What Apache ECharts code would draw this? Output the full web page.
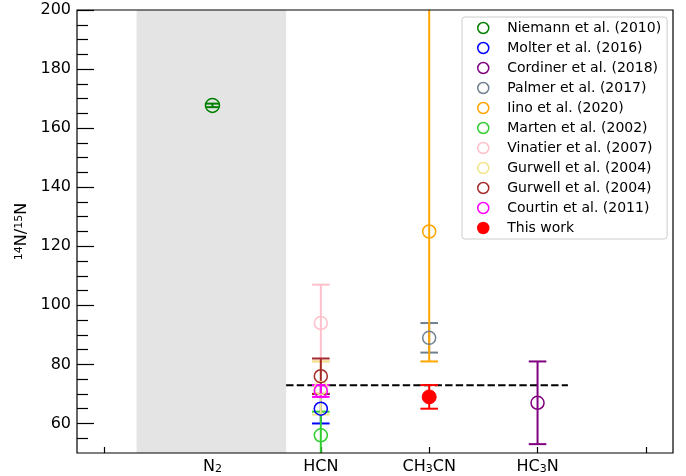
<!DOCTYPE html>
<html>
<head>
<meta charset="utf-8">
<script src="https://cdn.jsdelivr.net/npm/echarts@6/dist/echarts.min.js"></script>
<style>html,body{margin:0;padding:0;background:#fff}#c{width:686px;height:476px}</style>
</head>
<body>
<div id="c"></div>
<script>
// ---- data ----
const xTickLabels = ['', 'N_2', 'HCN', 'CH_3CN', 'HC_3N', ''];
const yTickLabels = [60, 80, 100, 120, 140, 160, 180, 200];
const yMinorTicks = [55, 65, 70, 75, 85, 90, 95, 105, 110, 115, 125, 130, 135, 145, 150, 155, 165, 170, 175, 185, 190, 195];
const seriesNames = ['Niemann et al. (2010)', 'Molter et al. (2016)', 'Cordiner et al. (2018)', 'Palmer et al. (2017)',
  'Iino et al. (2020)', 'Marten et al. (2002)', 'Vinatier et al. (2007)', 'Gurwell et al. (2004)',
  'Gurwell et al. (2004) ', 'Courtin et al. (2011)', 'This work'];
const xIndex   = [1, 2, 4, 3, 3, 2, 2, 2, 2, 2, 3];
const values   = [167.7, 65, 67, 89, 125, 56, 94, 72, 76, 71, 69];
const errLow   = [0.6, 5, 14, 5, 44, 8, 13, 9, 6, 2, 4];
const errHigh  = [0.6, 5, 14, 5, 145, 8, 13, 9, 6, 2, 4];
const spanRange = [0.3, 1.68];
const refLineX = [1.68, 4.28];
const refLineY = 72.9;

// ---- styles ----
const colors = ['#008000', '#0000ff', '#800080', '#708090', '#ffa500', '#32cd32', '#ffc0cb', '#f0e68c', '#a52a2a', '#ff00ff', '#ff0000'];
const filled = [false, false, false, false, false, false, false, false, false, false, true];
const markerSize = [14, 13, 13, 13, 13, 13, 13, 13, 13, 13, 14];
const capHalf = [6.5, 8.8, 8.8, 8.8, 8.8, 8.8, 8.8, 8.8, 8.8, 8.8, 8.8];
const FONT = 'DejaVu Sans';

function fmtLabel(s) {
  if (!s) return '';
  return s.replace(/([^_]+)?_(\d)/g, (m, a, d) => (a ? '{n|' + a + '}' : '') + '{s|' + d + '}')
          .replace(/^([^{]+)/, '{n|$1}')
          .replace(/\}([^{}]+)$/, '}{n|$1}');
}

const series = [];
// grey span
series.push({
  type: 'custom', name: '_span', z: 1, silent: true,
  data: [[spanRange[0], spanRange[1]]],
  renderItem: function (params, api) {
    const p0 = api.coord([api.value(0), 200]);
    const p1 = api.coord([api.value(1), 50]);
    return { type: 'rect', shape: { x: p0[0], y: p0[1], width: p1[0] - p0[0], height: p1[1] - p0[1] }, style: { fill: '#e4e4e4' } };
  }
});
// dashed reference line
series.push({
  type: 'line', name: '_ref', z: 2, silent: true, symbol: 'none',
  data: [[refLineX[0], refLineY], [refLineX[1], refLineY]],
  lineStyle: { color: '#000', width: 2, type: [7.4, 3.2] }
});

seriesNames.forEach((nm, i) => {
  const c = colors[i];
  const ch = capHalf[i];
  series.push({
    type: 'custom', name: '_err' + i, z: 3, clip: true, silent: true,
    data: [[xIndex[i], values[i], values[i] - errLow[i], values[i] + errHigh[i]]],
    encode: { x: 0, y: 1 },
    renderItem: function (params, api) {
      const x = api.value(0);
      const lo = api.coord([x, api.value(2)]);
      const hi = api.coord([x, api.value(3)]);
      const st = { stroke: c, lineWidth: 2 };
      return {
        type: 'group', children: [
          { type: 'line', shape: { x1: lo[0], y1: lo[1], x2: hi[0], y2: hi[1] }, style: st },
          { type: 'line', shape: { x1: lo[0] - ch, y1: lo[1], x2: lo[0] + ch, y2: lo[1] }, style: st },
          { type: 'line', shape: { x1: hi[0] - ch, y1: hi[1], x2: hi[0] + ch, y2: hi[1] }, style: st }
        ]
      };
    }
  });
  series.push({
    type: 'scatter', name: nm, z: 4, symbol: 'circle', symbolSize: markerSize[i],
    data: [[xIndex[i], values[i]]],
    itemStyle: filled[i] ? { color: c, borderColor: c, borderWidth: 1, opacity: 1 } : { color: 'rgba(0,0,0,0)', borderColor: c, borderWidth: 1.5, opacity: 1 },
    emphasis: { disabled: true }
  });
});

const chart = echarts.init(document.getElementById('c'), null, { renderer: 'canvas' });
chart.setOption({
  animation: false,
  backgroundColor: '#fff',
  textStyle: { fontFamily: FONT },
  grid: { left: 77, right: 13, top: 10, bottom: 23, show: true, z: 10, borderColor: '#000', borderWidth: 1.2, backgroundColor: 'rgba(0,0,0,0)' },
  legend: {
    data: seriesNames.map(n => ({ name: n, icon: 'circle' })),
    orient: 'vertical', left: 462, top: 17, selectedMode: false,
    itemWidth: 38, itemHeight: 11, itemGap: 6,
    padding: [4, 6, 4, 15],
    backgroundColor: 'rgba(255,255,255,0.85)', borderColor: '#cccccc', borderWidth: 1, borderRadius: 3,
    itemStyle: { borderWidth: 1.5, opacity: 1 },
    textStyle: { fontFamily: FONT, fontSize: 14, color: '#000' }
  },
  xAxis: {
    type: 'value', min: -0.25, max: 5.25,
    axisLine: { show: false, onZero: false },
    splitLine: { show: false },
    axisTick: { show: true, inside: true, length: 6, customValues: xTickLabels.map((_, i) => i), lineStyle: { color: '#000', width: 1.2 } },
    axisLabel: {
      customValues: xTickLabels.map((_, i) => i).filter(i => xTickLabels[i]),
      margin: 6,
      formatter: v => fmtLabel(xTickLabels[Math.round(v)]),
      rich: {
        n: { fontFamily: FONT, fontSize: 16, color: '#000' },
        s: { fontFamily: FONT, fontSize: 11, color: '#000', verticalAlign: 'bottom', padding: [4, 0, 0, 0] }
      }
    }
  },
  yAxis: [{
    type: 'value', min: 50, max: 200, position: 'left',
    axisLine: { show: false, onZero: false },
    splitLine: { show: false },
    axisTick: { show: true, inside: true, length: 17, customValues: yTickLabels, lineStyle: { color: '#000', width: 1.2 } },
    axisLabel: { customValues: yTickLabels, margin: 6, fontFamily: FONT, fontSize: 16, color: '#000' },
    name: '{sup|14}{n|N/}{sup|15}{n|N}', nameLocation: 'middle', nameGap: 40,
    nameTextStyle: {
      rich: {
        n: { fontFamily: FONT, fontSize: 16, color: '#000' },
        sup: { fontFamily: FONT, fontSize: 11, color: '#000', verticalAlign: 'top' }
      }
    }
  }, {
    type: 'value', min: 50, max: 200, position: 'left',
    axisLine: { show: false, onZero: false },
    splitLine: { show: false },
    axisTick: { show: true, inside: true, length: 11, customValues: yMinorTicks, lineStyle: { color: '#000', width: 1.2 } },
    axisLabel: { show: false }
  }],
  series: series
});
</script>
</body>
</html>
